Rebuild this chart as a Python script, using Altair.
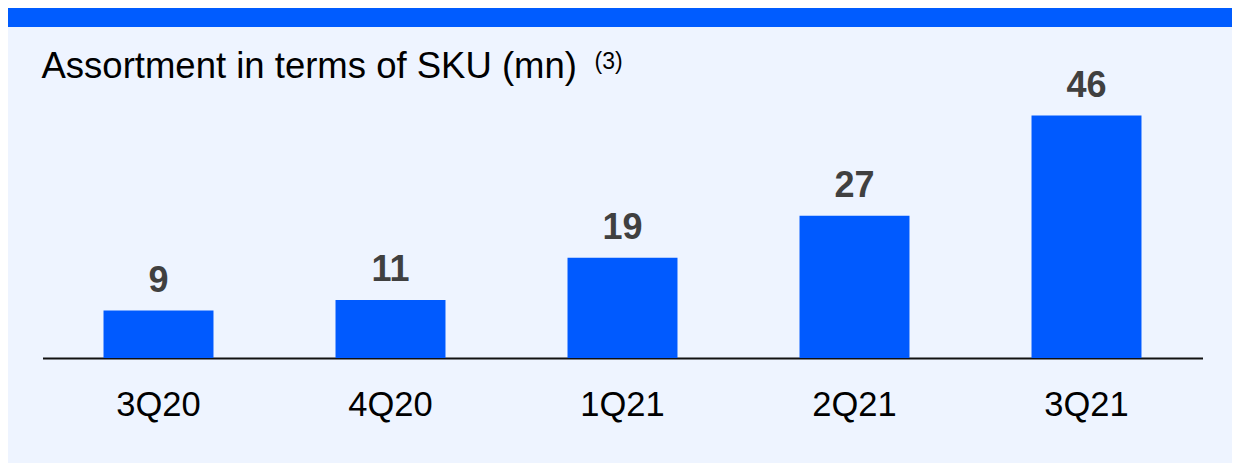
import altair as alt
import pandas as pd

quarters = ["3Q20", "4Q20", "1Q21", "2Q21", "3Q21"]
skus = [9, 11, 19, 27, 46]
title_text = "Assortment in terms of SKU (mn)"
note_text = "(3)"

df = pd.DataFrame({"quarter": quarters, "sku": skus})

FONT = "Liberation Sans"
BLUE = "#005AFF"

x_enc = alt.X(
    "quarter:N",
    sort=quarters,
    scale=alt.Scale(paddingInner=0.526, paddingOuter=0.263),
    axis=alt.Axis(
        title=None,
        labelAngle=0,
        ticks=False,
        grid=False,
        labelFont=FONT,
        labelFontSize=34.5,
        labelColor="#000000",
        labelPadding=30,
        domainColor="#111111",
        domainWidth=2,
    ),
)
y_enc = alt.Y("sku:Q", scale=alt.Scale(domain=[0, 66.4], nice=False, zero=True), axis=None)

base = alt.Chart(df).encode(x=x_enc, y=y_enc)

bars = base.mark_bar(color=BLUE)
labels = base.mark_text(
    dy=-19, baseline="alphabetic", fontSize=36, fontWeight="bold", color="#404040", font=FONT
).encode(text="sku:Q")

deco = pd.DataFrame({"k": [0]})
band = alt.Chart(deco).mark_rect(color="#005CFF").encode(
    x=alt.value(-34.5), x2=alt.value(1189.5), y=alt.value(0), y2=alt.value(19)
)
title = alt.Chart(deco).mark_text(
    align="left", baseline="alphabetic", fontSize=36.5, font=FONT, color="#000000"
).encode(x=alt.value(-1), y=alt.value(70), text=alt.value(title_text))
note = alt.Chart(deco).mark_text(
    align="left", baseline="alphabetic", fontSize=23, font=FONT, color="#000000"
).encode(x=alt.value(552), y=alt.value(61), text=alt.value(note_text))

chart = (
    alt.layer(band, bars, labels, title, note)
    .properties(
        width=1160,
        height=350,
        autosize=alt.AutoSizeParams(type="none"),
        padding={"left": 34.5, "right": 29.5, "top": 0, "bottom": 105},
        background="#EEF4FF",
    )
    .configure_view(stroke=None)
)

chart.save("out.html", embed_options={"renderer": "svg", "actions": False})
